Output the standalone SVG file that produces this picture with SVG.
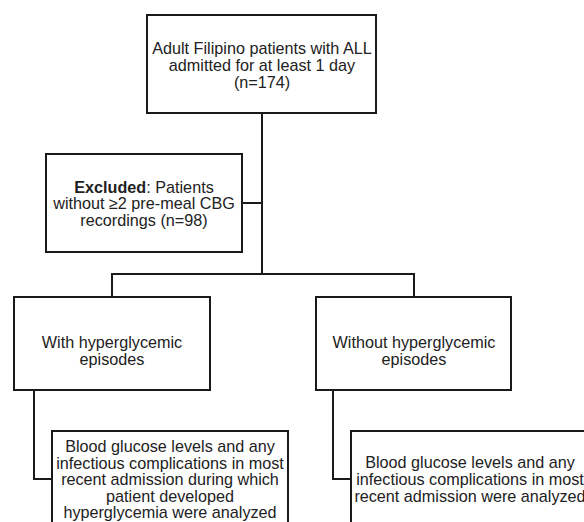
<svg xmlns="http://www.w3.org/2000/svg" width="584" height="522" viewBox="0 0 584 522">
<style>
.box{fill:#fff;stroke:#1a1a1a;stroke-width:2}
.ln{fill:none;stroke:#1a1a1a;stroke-width:2}
text{font-family:"Liberation Sans",Arial,sans-serif;font-size:16.2px;fill:#222;text-anchor:middle}
.b{font-weight:bold}
</style>
<rect width="584" height="522" fill="#fff"/>
<g id="connectors">
<polyline class="ln" points="262,113 262,274"/>
<polyline class="ln" points="242,203 262,203"/>
<polyline class="ln" points="112,297 112,274 414,274 414,297"/>
<polyline class="ln" points="34,390 34,479 52,479"/>
<polyline class="ln" points="333,390 333,479 351,479"/>
</g>
<g id="n1">
<rect class="box" x="147" y="15" width="229" height="98"/>
<text x="262" y="54">Adult Filipino patients with ALL</text>
<text x="262" y="71">admitted for at least 1 day</text>
<text x="262" y="88">(n=174)</text>
</g>
<g id="n2">
<rect class="box" x="46" y="154" width="196" height="98"/>
<text x="144" y="193"><tspan class="b">Excluded</tspan>: Patients</text>
<text x="144" y="209">without ≥2 pre-meal CBG</text>
<text x="144" y="226">recordings (n=98)</text>
</g>
<g id="n3">
<rect class="box" x="14" y="297" width="196" height="93"/>
<text x="112" y="348">With hyperglycemic</text>
<text x="112" y="365">episodes</text>
</g>
<g id="n4">
<rect class="box" x="316" y="297" width="195" height="93"/>
<text x="414" y="348">Without hyperglycemic</text>
<text x="414" y="365">episodes</text>
</g>
<g id="n5">
<rect class="box" x="52" y="431" width="236" height="110"/>
<text x="170" y="452">Blood glucose levels and any</text>
<text x="170" y="469">infectious complications in most</text>
<text x="170" y="485">recent admission during which</text>
<text x="170" y="502">patient developed</text>
<text x="170" y="518">hyperglycemia were analyzed</text>
</g>
<g id="n6">
<rect class="box" x="351" y="431" width="236" height="110"/>
<text x="470" y="468">Blood glucose levels and any</text>
<text x="470" y="485">infectious complications in most</text>
<text x="470" y="502">recent admission were analyzed</text>
</g>
</svg>
